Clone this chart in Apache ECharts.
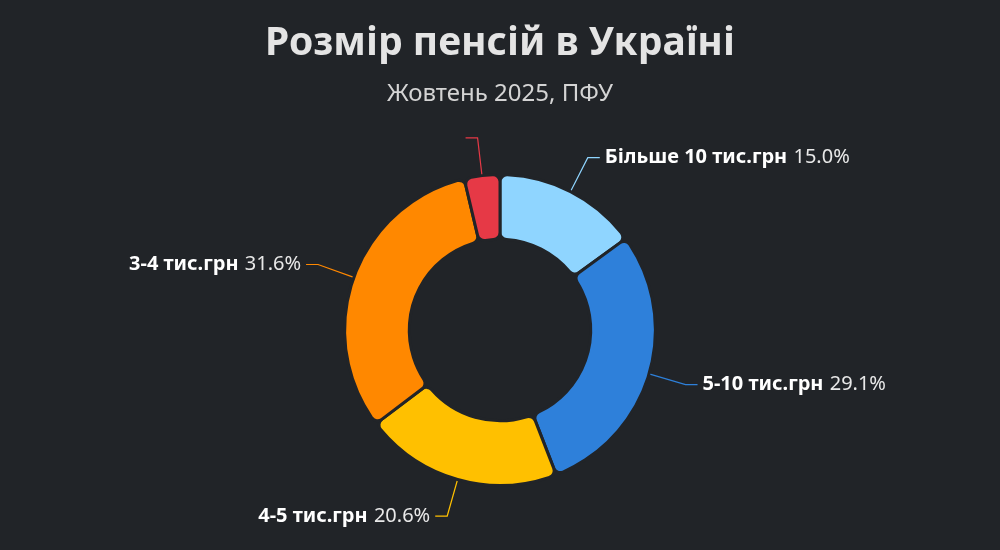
<!DOCTYPE html>
<html>
<head>
<meta charset="utf-8">
<script src="https://cdn.jsdelivr.net/npm/echarts@6/dist/echarts.min.js"></script>
<style>
  html, body { margin: 0; padding: 0; background: #212428; }
  #main { width: 1000px; height: 550px; }
</style>
</head>
<body>
<div id="main"></div>
<script>
// дані: розподіл пенсій, жовтень 2025
const categories = ['Більше 10 тис.грн', '5-10 тис.грн', '4-5 тис.грн', '3-4 тис.грн', 'До 3 тис.грн'];
const shares = [15.0, 29.1, 20.6, 31.6, 3.7];
const colors = ['#8fd5ff', '#2e80da', '#ffc000', '#ff8800', '#e63946'];

const chart = echarts.init(document.getElementById('main'));

const seriesData = categories.map((name, i) => {
  let item = { name: name, value: shares[i], itemStyle: { color: colors[i] } };
  if (i === categories.length - 1) {
    // підпис у цього сектора порожній, лишається тільки лінія
    item.label = { formatter: ' ' };
  }
  return item;
});

chart.setOption({
  backgroundColor: '#212428',
  textStyle: { fontFamily: 'Noto Sans' },
  title: {
    text: 'Розмір пенсій в Україні',
    subtext: 'Жовтень 2025, ПФУ',
    left: 'center',
    top: 19,
    itemGap: 19,
    textStyle: { color: '#e4e4e4', fontSize: 39, fontWeight: 'bold', fontFamily: 'Noto Sans' },
    subtextStyle: { color: '#d4d4d4', fontSize: 24, fontFamily: 'Noto Sans' }
  },
  series: [{
    type: 'pie',
    center: ['50%', '60%'],
    radius: ['33%', '56.5%'],
    startAngle: 90,
    clockwise: true,
    itemStyle: { borderRadius: 7, borderColor: '#212428', borderWidth: 3 },
    label: {
      show: true,
      formatter: p => `{n|${p.name}}  {v|${p.value.toFixed(1)}%}`,
      rich: {
        n: { color: '#ffffff', fontSize: 20, fontWeight: 'bold', fontFamily: 'Noto Sans' },
        v: { color: '#e8e8e8', fontSize: 20, fontFamily: 'Noto Sans' }
      }
    },
    labelLine: { show: true, length: 38, length2: 12, lineStyle: { width: 1.2 } },
    data: seriesData
  }]
});
</script>
</body>
</html>
